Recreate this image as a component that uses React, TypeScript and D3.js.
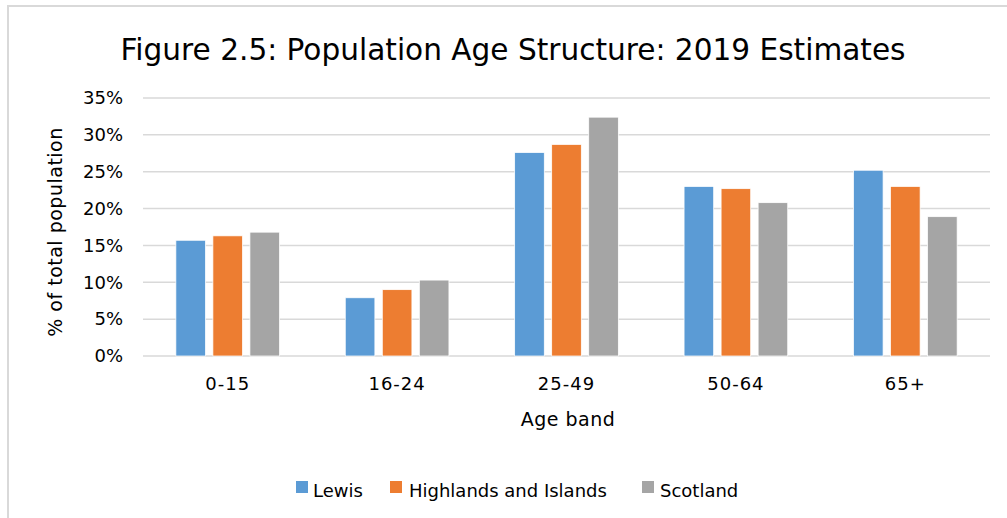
import React from "react";
import * as d3 from "d3";

const categories = ["0-15", "16-24", "25-49", "50-64", "65+"];
const seriesNames = ["Lewis", "Highlands and Islands", "Scotland"];
const lewis = [15.7, 7.9, 27.6, 23.0, 25.2];
const highlands = [16.3, 9.0, 28.7, 22.7, 23.0];
const scotland = [16.8, 10.3, 32.4, 20.8, 18.9];
const yTicks = [0, 5, 10, 15, 20, 25, 30, 35];
const colors = ["#5B9BD5", "#ED7D31", "#A5A5A5"];

const W = 1007;
const H = 518;
const FONT = "'DejaVu Sans', sans-serif";

export default function App() {
  const series = [lewis, highlands, scotland];
  const plotL = 143, plotR = 990, plotT = 98, plotB = 356;
  const x = d3.scaleBand<string>().domain(categories).range([plotL, plotR]).padding(0);
  const y = d3.scaleLinear().domain([0, 35]).range([plotB, plotT]);
  const groupW = x.bandwidth() * 0.612;
  const inner = d3
    .scaleBand<string>()
    .domain(seriesNames)
    .range([0, groupW])
    .paddingInner(0.2)
    .paddingOuter(0);

  const legendItems = [
    { name: seriesNames[0], sx: 296, tx: 313 },
    { name: seriesNames[1], sx: 390, tx: 409 },
    { name: seriesNames[2], sx: 642, tx: 660 },
  ];

  return (
    <svg width={W} height={H} style={{ position: "absolute", left: 0, top: 0, display: "block" }}>
      <rect x={0} y={0} width={W} height={H} fill="#fff" />
      <line x1={7} y1={6} x2={W} y2={6} stroke="#d9d9d9" strokeWidth={2} />
      <line x1={8} y1={5} x2={8} y2={H} stroke="#d9d9d9" strokeWidth={2} />
      <text
        x={513}
        y={60}
        textAnchor="middle"
        fontFamily={FONT}
        fontSize={31}
        textLength={785}
        lengthAdjust="spacingAndGlyphs"
        fill="#000"
      >
        Figure 2.5: Population Age Structure: 2019 Estimates
      </text>
      {yTicks.map((t) => (
        <g key={t}>
          <line x1={plotL} x2={plotR} y1={y(t)} y2={y(t)} stroke="#d9d9d9" strokeWidth={1.5} />
          <text
            x={123}
            y={y(t)}
            dy="0.35em"
            textAnchor="end"
            fontFamily={FONT}
            fontSize={18}
            fill="#000"
          >
            {t}%
          </text>
        </g>
      ))}
      {categories.map((c, i) => {
        const gx = (x(c) as number) + (x.bandwidth() - groupW) / 2;
        return (
          <g key={c}>
            {series.map((s, j) => (
              <rect
                key={j}
                x={gx + (inner(seriesNames[j]) as number)}
                y={y(s[i])}
                width={inner.bandwidth()}
                height={y(0) - y(s[i])}
                fill={colors[j]}
                stroke="#fff"
                strokeWidth={0.75}
              />
            ))}
            <text
              x={(x(c) as number) + x.bandwidth() / 2}
              y={390}
              textAnchor="middle"
              fontFamily={FONT}
              fontSize={18}
              letterSpacing={1}
              fill="#000"
            >
              {c}
            </text>
          </g>
        );
      })}
      <text x={568} y={426} textAnchor="middle" fontFamily={FONT} fontSize={19} letterSpacing={0.5} fill="#000">
        Age band
      </text>
      <text
        transform={`translate(62, ${(plotT + plotB) / 2 + 5}) rotate(-90)`}
        textAnchor="middle"
        fontFamily={FONT}
        fontSize={19}
        letterSpacing={0.5}
        fill="#000"
      >
        % of total population
      </text>
      {legendItems.map((l, j) => (
        <g key={l.name}>
          <rect x={l.sx} y={481} width={12} height={12} fill={colors[j]} />
          <text x={l.tx} y={497} fontFamily={FONT} fontSize={18} fill="#000">
            {l.name}
          </text>
        </g>
      ))}
    </svg>
  );
}
